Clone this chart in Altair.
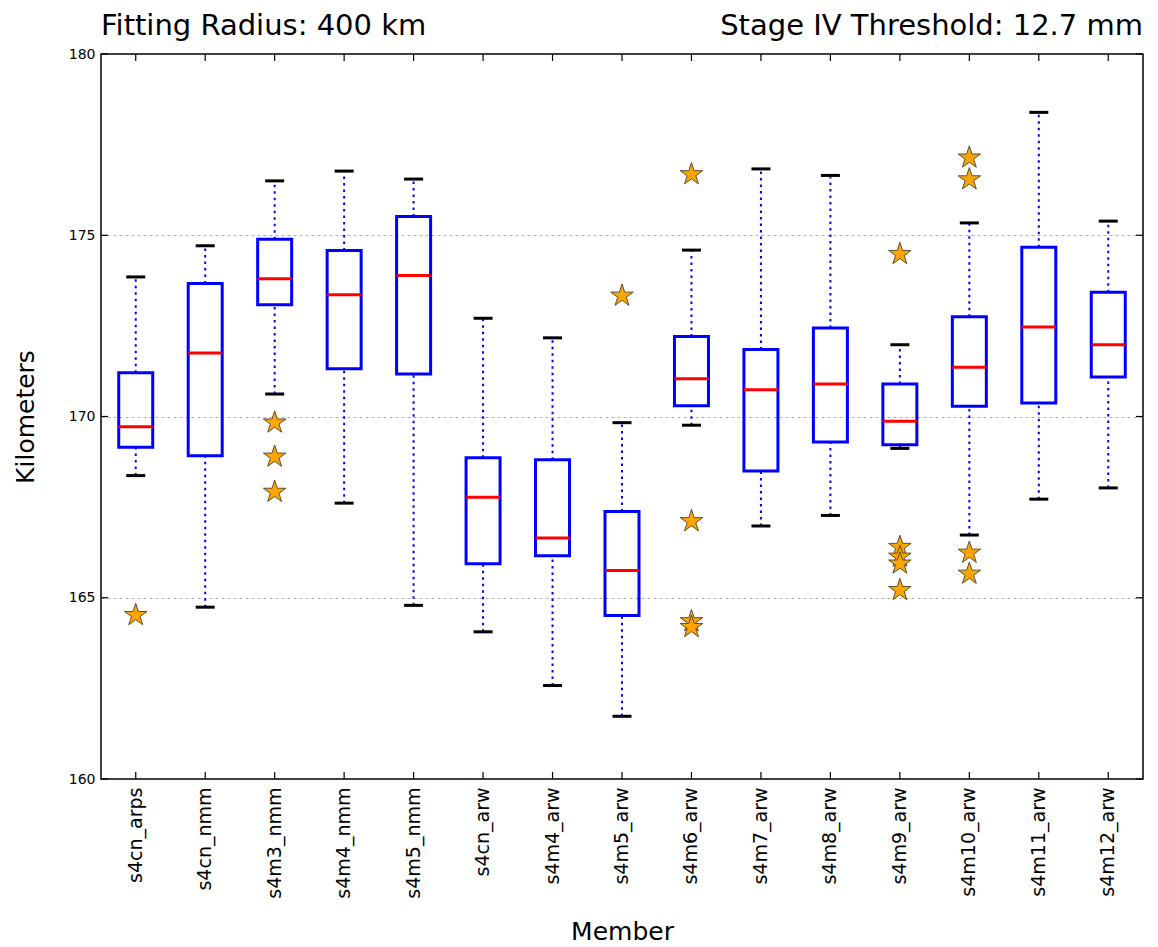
import altair as alt
import pandas as pd

members = ["s4cn_arps", "s4cn_nmm", "s4m3_nmm", "s4m4_nmm", "s4m5_nmm", "s4cn_arw",
           "s4m4_arw", "s4m5_arw", "s4m6_arw", "s4m7_arw", "s4m8_arw", "s4m9_arw",
           "s4m10_arw", "s4m11_arw", "s4m12_arw"]
low = [168.37, 164.74, 170.62, 167.61, 164.79, 164.06, 162.58, 161.73, 169.76, 166.98,
       167.27, 169.12, 166.73, 167.72, 168.03]
q1 = [169.15, 168.92, 173.08, 171.32, 171.17, 165.94, 166.16, 164.51, 170.30, 168.50,
      169.30, 169.22, 170.28, 170.37, 171.09]
median = [169.72, 171.75, 173.80, 173.36, 173.89, 167.77, 166.65, 165.75, 171.04, 170.74,
          170.90, 169.87, 171.36, 172.47, 171.98]
q3 = [171.21, 173.67, 174.89, 174.58, 175.52, 168.86, 168.81, 167.38, 172.21, 171.85,
      172.44, 170.90, 172.75, 174.67, 173.43]
high = [173.85, 174.71, 176.50, 176.77, 176.55, 172.71, 172.17, 169.83, 174.59, 176.83,
        176.65, 171.98, 175.34, 178.39, 175.39]

outlier_member = ["s4cn_arps", "s4m3_nmm", "s4m3_nmm", "s4m3_nmm", "s4m5_arw",
                  "s4m6_arw", "s4m6_arw", "s4m6_arw", "s4m6_arw",
                  "s4m9_arw", "s4m9_arw", "s4m9_arw", "s4m9_arw", "s4m9_arw",
                  "s4m10_arw", "s4m10_arw", "s4m10_arw", "s4m10_arw"]
outlier_value = [164.52, 169.83, 168.89, 167.92, 173.33,
                 176.68, 167.11, 164.35, 164.19,
                 174.48, 166.40, 166.13, 165.94, 165.21,
                 177.14, 176.54, 166.24, 165.66]

y_ticks = [160, 165, 170, 175, 180]
title_left = "Fitting Radius: 400 km"
title_right = "Stage IV Threshold: 12.7 mm"

W, H = 1042, 725
FONT = "DejaVu Sans"

box_df = pd.DataFrame({"member": members, "low": low, "q1": q1, "median": median,
                       "q3": q3, "high": high})
out_df = pd.DataFrame({"member": outlier_member, "value": outlier_value})
ytick_df = pd.DataFrame({"v": y_ticks})
xtick_df = pd.DataFrame({"member": members})

xscale = alt.Scale(type="band", domain=members, paddingInner=0, paddingOuter=0)
yscale = alt.Scale(domain=[160, 180], nice=False, zero=False)

xaxis = alt.Axis(title="Member", labelAngle=-90, labelFontSize=19, titleFontSize=25,
                 ticks=False, domain=False, labelPadding=8, grid=False,
                 titleX=W / 2, titleY=152, titleBaseline="middle", titleAlign="center")
yaxis = alt.Axis(title="Kilometers", values=y_ticks, grid=True, gridDash=[3, 3],
                 gridColor="#b0b0b0", gridWidth=1, ticks=False, domain=False,
                 gridOpacity={"condition": {"test": "datum.value == 160 || datum.value == 180",
                                            "value": 0}, "value": 1},
                 labelFontSize=14, labelPadding=6, titleFontSize=25,
                 titleX=-76, titleY=H / 2, titleAngle=-90, titleBaseline="middle",
                 titleAlign="center")


def X(field="member"):
    return alt.X(f"{field}:N", scale=xscale, axis=xaxis)


def Y(field):
    return alt.Y(f"{field}:Q", scale=yscale, axis=yaxis)


star = ("M0,-1 L0.2245,-0.309 L0.951,-0.309 L0.3633,0.118 L0.588,0.809 L0,0.382 "
        "L-0.588,0.809 L-0.3633,0.118 L-0.951,-0.309 L-0.2245,-0.309 Z")

base = alt.Chart(box_df)

whisk_lo = base.mark_rule(color="blue", strokeWidth=2, strokeDash=[2.5, 4]).encode(
    x=X(), y=Y("low"), y2="q1")
whisk_hi = base.mark_rule(color="blue", strokeWidth=2, strokeDash=[2.5, 4]).encode(
    x=X(), y=Y("q3"), y2="high")
caps_lo = base.mark_tick(color="black", size=19, thickness=3, opacity=1).encode(
    x=X(), y=Y("low"))
caps_hi = base.mark_tick(color="black", size=19, thickness=3, opacity=1).encode(
    x=X(), y=Y("high"))
boxes = base.mark_bar(size=34, fill="white", fillOpacity=0, stroke="blue",
                      strokeWidth=3, strokeOpacity=1).encode(x=X(), y=Y("q1"), y2="q3")
meds = base.mark_tick(color="#ff0000", size=34, thickness=3, opacity=1).encode(
    x=X(), y=Y("median"))

outs = alt.Chart(out_df).mark_point(shape=star, size=560, filled=True, fill="#ffa500",
                                    fillOpacity=1, stroke="#5c5030", strokeWidth=1,
                                    opacity=1).encode(x=X(), y=Y("value"))

tick_style = dict(color="black", strokeWidth=1.2)
xt_top = alt.Chart(xtick_df).mark_rule(**tick_style).encode(
    x=X(), y=alt.value(0), y2=alt.value(7))
xt_bot = alt.Chart(xtick_df).mark_rule(**tick_style).encode(
    x=X(), y=alt.value(H), y2=alt.value(H - 7))
yt_left = alt.Chart(ytick_df).mark_rule(**tick_style).encode(
    y=Y("v"), x=alt.value(0), x2=alt.value(7))
yt_right = alt.Chart(ytick_df).mark_rule(**tick_style).encode(
    y=Y("v"), x=alt.value(W), x2=alt.value(W - 7))

t_left = alt.Chart(pd.DataFrame({"t": [title_left]})).mark_text(
    align="left", baseline="alphabetic", fontSize=29, font=FONT, color="black").encode(
    x=alt.value(0), y=alt.value(-19), text="t:N")
t_right = alt.Chart(pd.DataFrame({"t": [title_right]})).mark_text(
    align="right", baseline="alphabetic", fontSize=29, font=FONT, color="black").encode(
    x=alt.value(W), y=alt.value(-19), text="t:N")

chart = alt.layer(
    whisk_lo, whisk_hi, caps_lo, caps_hi, boxes, meds, outs,
    xt_top, xt_bot, yt_left, yt_right, t_left, t_right
).properties(
    width=W, height=H,
    autosize=alt.AutoSizeParams(type="none"),
    padding={"left": 101, "top": 54, "right": 15, "bottom": 168},
).configure_view(
    stroke="black", strokeWidth=1.5
).configure_axis(
    labelFont=FONT, titleFont=FONT, titleFontWeight="normal",
    labelColor="black", titleColor="black"
)

chart.save("out.html", embed_options={"renderer": "svg", "actions": False})
